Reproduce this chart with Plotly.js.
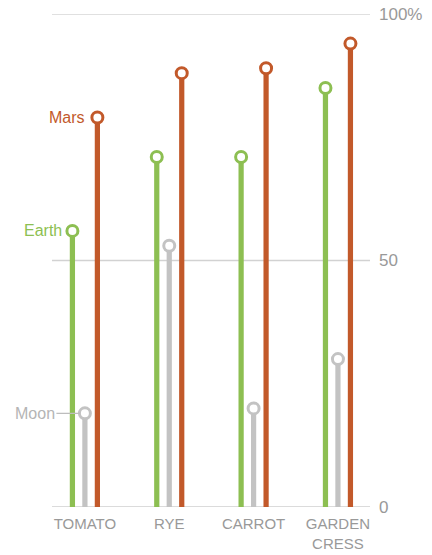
<!DOCTYPE html>
<html><head><meta charset="utf-8">
<script src="https://cdn.plot.ly/plotly-3.0.1.min.js"></script>
<style>html,body{margin:0;padding:0;background:#fff}#c{width:432px;height:555px}</style>
</head><body><div id="c"></div>
<script>
const categories = ["TOMATO", "RYE", "CARROT", "GARDEN<br>CRESS"];
const earth = [56, 71, 71, 85];
const moon = [19, 53, 20, 30];
const mars = [79, 88, 89, 94];
const seriesNames = ["Earth", "Moon", "Mars"];
const yTickVals = [0, 50, 100];
const yTickText = ["0", "50", "100%"];

const colors = {Earth: "#8dbf52", Moon: "#c3c3c3", Mars: "#c2592a"};
const labelColors = {Earth: "#8dbf52", Moon: "#b5b5b5", Mars: "#c2592a"};
const offsets = {Earth: -0.148, Moon: 0, Mars: 0.148};
const data = {Earth: earth, Moon: moon, Mars: mars};
const idx = categories.map((_, i) => i);

const traces = [];
seriesNames.forEach(name => {
  const xs = idx.map(i => i + offsets[name]);
  traces.push({type: "bar", x: xs, y: data[name], width: 0.062,
    marker: {color: colors[name], line: {width: 0}}, hoverinfo: "skip", showlegend: false});
});
seriesNames.forEach(name => {
  const xs = idx.map(i => i + offsets[name]);
  traces.push({type: "scatter", mode: "markers", x: xs, y: data[name],
    marker: {symbol: "circle", size: 11, color: "#fff", line: {color: colors[name], width: 3}},
    showlegend: false, cliponaxis: false});
});

const font = "Liberation Sans, Arial, sans-serif";
const annotations = [
  {x: offsets.Mars, y: mars[0], text: "Mars", xanchor: "right", yanchor: "middle", xshift: -10, showarrow: false,
   font: {family: font, size: 16, color: labelColors.Mars}},
  {x: offsets.Earth, y: earth[0], text: "Earth", xanchor: "right", yanchor: "middle", xshift: -8, showarrow: false,
   font: {family: font, size: 16, color: labelColors.Earth}},
  {x: offsets.Moon, y: moon[0], text: "Moon", showarrow: true, arrowhead: 0, arrowwidth: 1.2, arrowcolor: "#bdbdbd",
   ax: -50, ay: 0, standoff: 5, font: {family: font, size: 16, color: labelColors.Moon}}
];

const gridColors = ["#cfcfcf", "#d2d2d2", "#e0e0e0"];
const shapes = yTickVals.map((v, i) => ({type: "line", xref: "paper", x0: 0, x1: 1, yref: "y", y0: v, y1: v,
  line: {color: gridColors[i], width: i === 2 ? 2 : 1.5}, layer: "below"}));

const layout = {
  width: 432, height: 555,
  margin: {l: 52, r: 62, t: 14, b: 48},
  paper_bgcolor: "#fff", plot_bgcolor: "#fff",
  barmode: "overlay",
  xaxis: {range: [-0.39, 3.38], tickvals: idx, ticktext: categories, showgrid: false, zeroline: false,
    showline: false, ticks: "", tickfont: {family: font, size: 15, color: "#999"}, ticklabelstandoff: 6, fixedrange: true},
  yaxis: {range: [0, 100], side: "right", tickvals: yTickVals, ticktext: yTickText, showgrid: false,
    zeroline: false, showline: false, ticks: "",
    tickfont: {family: font, size: 17, color: "#999"}, ticklabelstandoff: 8},
  shapes: shapes,
  annotations: annotations,
  showlegend: false
};
Plotly.newPlot("c", traces, layout, {displayModeBar: false, staticPlot: true});
</script></body></html>
